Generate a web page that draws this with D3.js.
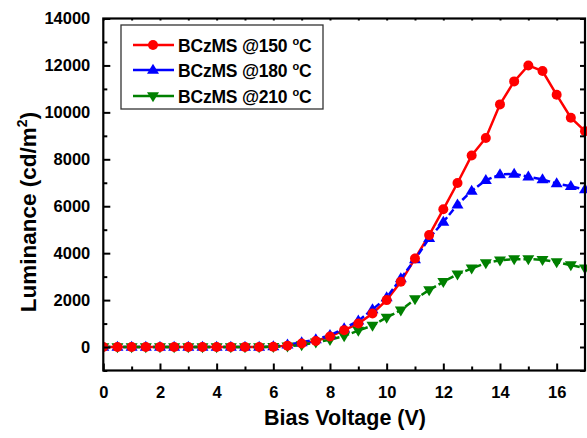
<!DOCTYPE html>
<html><head><meta charset="utf-8">
<script src="https://cdn.jsdelivr.net/npm/d3@7"></script>
<style>body{margin:0;background:#fff}svg{display:block}text{font-family:"Liberation Sans",Arial,sans-serif;font-weight:bold}</style>
</head><body>
<svg id="c" width="587" height="438"></svg>
<script>
const voltages = d3.range(0, 17.01, 0.5);
const red150 = [0,0,0,0,0,0,0,0,0,0,0,0,15,60,150,260,450,720,1000,1430,2000,2780,3770,4770,5870,6990,8160,8910,10340,11320,12000,11760,10750,9770,9200];
const blue180 = [0,0,0,0,0,0,0,0,0,0,0,0,20,100,200,320,500,790,1120,1600,2110,2920,3730,4640,5330,6070,6650,7110,7350,7380,7260,7140,6970,6850,6710];
const green210 = [0,0,0,0,0,0,0,0,0,0,0,0,10,30,85,200,310,470,700,920,1260,1570,2040,2430,2780,3100,3350,3580,3700,3745,3745,3720,3620,3490,3360];
const seriesNames = ["BCzMS @150","BCzMS @180","BCzMS @210"];
const xTicks = [0,2,4,6,8,10,12,14,16];
const yTicks = [0,2000,4000,6000,8000,10000,12000,14000];

const svg = d3.select("#c");
const L=103.3, R=585, T=18.5, B=370.5;
const x = d3.scaleLinear().domain([0,17]).range([L,R]);
const y = d3.scaleLinear().domain([-1000,14000]).range([B,T]);

const series = [
  {name:seriesNames[0], vals:red150, color:"#ff0000", sym:"circle", dash:null},
  {name:seriesNames[1], vals:blue180, color:"#0000ff", sym:"up", dash:"7,3"},
  {name:seriesNames[2], vals:green210, color:"#008000", sym:"down", dash:"7,3"}
];

function marker(g, s, cx, cy){
  if(s.sym==="circle"){
    g.append("circle").attr("cx",cx).attr("cy",cy).attr("r",5).attr("fill",s.color);
  } else {
    const h=10, w=12;
    const pts = s.sym==="up"
      ? [[cx,cy-h*0.62],[cx-w/2,cy+h*0.38],[cx+w/2,cy+h*0.38]]
      : [[cx,cy+h*0.62],[cx-w/2,cy-h*0.38],[cx+w/2,cy-h*0.38]];
    g.append("polygon").attr("points",pts.map(p=>p.join(",")).join(" ")).attr("fill",s.color);
  }
}

const plot = svg.append("g");
svg.append("clipPath").attr("id","cp").append("rect").attr("x",L).attr("y",T).attr("width",R-L+2).attr("height",B-T);
plot.attr("clip-path","url(#cp)");
series.forEach(s=>{
  const line = d3.line().x((d,i)=>x(voltages[i])).y(d=>y(d));
  plot.append("path").datum(s.vals).attr("d",line).attr("fill","none")
    .attr("stroke",s.color).attr("stroke-width",2.5).attr("stroke-dasharray",s.dash);
});
series.slice().reverse().forEach(s=>{
  s.vals.forEach((v,i)=>marker(plot,s,x(voltages[i]),y(v)));
});

// axes with inward ticks
const ax = svg.append("g");
const xb = d3.axisBottom(x).tickValues(xTicks).tickSize(-7).tickPadding(16).tickFormat(d3.format("d"));
ax.append("g").attr("transform",`translate(0,${B})`).call(xb);
const xm = d3.axisBottom(x).tickValues(d3.range(1,17,2)).tickSize(-4).tickFormat("");
ax.append("g").attr("transform",`translate(0,${B})`).call(xm);
const yl = d3.axisLeft(y).tickValues(yTicks).tickSize(-7).tickPadding(13).tickFormat(d3.format("d"));
ax.append("g").attr("transform",`translate(${L},0)`).call(yl);
const ym = d3.axisLeft(y).tickValues(d3.range(-1000,14000,2000)).tickSize(-4).tickFormat("");
ax.append("g").attr("transform",`translate(${L},0)`).call(ym);
const yr = d3.axisRight(y).tickValues(d3.range(-1000,14001,1000)).tickSize(-5).tickFormat("");
ax.append("g").attr("transform",`translate(${R},0)`).call(yr);
const xt = d3.axisTop(x).tickValues(d3.range(0,17,1)).tickSize(-2).tickFormat("");
ax.append("g").attr("transform",`translate(0,${T})`).call(xt);
ax.selectAll(".domain").remove();
ax.selectAll(".tick line").attr("stroke","#000").attr("stroke-width",2);
ax.selectAll(".tick text").attr("font-size",16.5).attr("font-weight","bold").attr("fill","#000")
  .attr("font-family","'Liberation Sans', Arial, sans-serif");
svg.append("rect").attr("x",L).attr("y",T).attr("width",R-L).attr("height",B-T)
  .attr("fill","none").attr("stroke","#000").attr("stroke-width",2.2);

// titles
svg.append("text").attr("x",345).attr("y",425).attr("text-anchor","middle").attr("font-size",21.5).text("Bias Voltage (V)");
const yt = svg.append("text").attr("transform","translate(36,212) rotate(-90)").attr("text-anchor","middle").attr("font-size",22.5);
yt.append("tspan").text("Luminance (cd/m");
yt.append("tspan").attr("font-size",14).attr("dy",-9).text("2");
yt.append("tspan").attr("dy",9).text(")");

// legend
const lg = svg.append("g");
lg.append("rect").attr("x",121).attr("y",25).attr("width",202).attr("height",84).attr("fill","#fff").attr("stroke","#333").attr("stroke-width",1.3);
const ly=[45,70,96];
series.forEach((s,i)=>{
  lg.append("line").attr("x1",133).attr("x2",174).attr("y1",ly[i]).attr("y2",ly[i]).attr("stroke",s.color).attr("stroke-width",2.5);
  marker(lg,s,153,ly[i]);
  const t = lg.append("text").attr("x",178).attr("y",ly[i]+6.5).attr("font-size",17.5).attr("letter-spacing",-0.2);
  t.append("tspan").text(s.name);
  t.append("tspan").attr("font-size",11).attr("dx",5).attr("dy",-7).text("o");
  t.append("tspan").attr("dy",7).text("C");
});
</script>
</body></html>
